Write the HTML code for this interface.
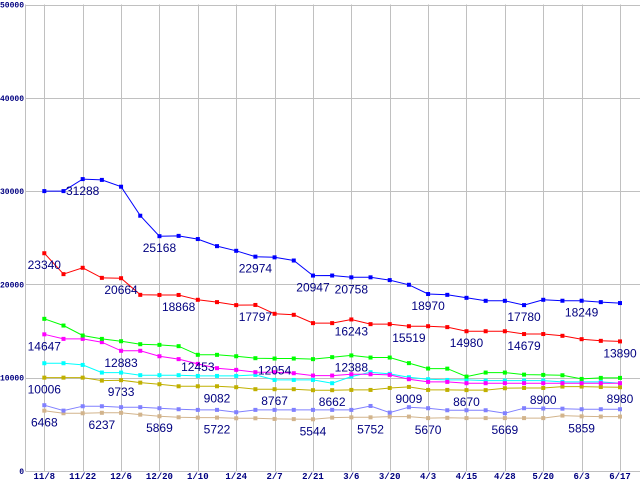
<!DOCTYPE html>
<html><head><meta charset="utf-8"><style>
html,body{margin:0;padding:0;background:#fff;}
svg{display:block;}
</style></head><body>
<svg id="chart" width="640" height="480" xmlns="http://www.w3.org/2000/svg"></svg>
<script>
const dates = ["11/8","11/22","12/6","12/20","1/10","1/24","2/7","2/21","3/6","3/20","4/3","4/15","4/28","5/20","6/3","6/17"];
const yTicks = [0,10000,20000,30000,40000,50000];
const blueVals = [30000,30000,31288,31200,30470,27360,25168,25200,24860,24100,23600,22974,22900,22560,20947,20950,20758,20758,20460,19960,18970,18880,18560,18240,18240,17780,18350,18249,18249,18100,18000];
const redVals = [23340,21100,21780,20700,20664,18880,18868,18868,18350,18100,17780,17797,16850,16740,15850,15850,16243,15740,15740,15519,15519,15420,14980,14980,14980,14679,14679,14490,14130,13950,13890];
const greenVals = [16310,15590,14520,14160,13910,13590,13520,13380,12453,12450,12300,12090,12054,12054,11990,12200,12388,12160,12160,11560,10980,10970,10120,10550,10550,10330,10300,10260,9870,9980,9980];
const magentaVals = [14647,14160,14160,13810,12883,12883,12300,11990,11480,11020,10840,10590,10590,10480,10230,10230,10370,10370,10300,9840,9550,9550,9410,9410,9410,9410,9410,9410,9410,9410,9410];
const cyanVals = [11550,11550,11370,10550,10550,10270,10270,10270,10190,10190,10190,10300,9760,9760,9760,9410,10120,10590,10410,10050,9840,9760,9760,9690,9690,9690,9690,9550,9550,9550,9410];
const oliveVals = [10006,10006,10006,9690,9733,9470,9300,9080,9082,9082,8980,8767,8767,8767,8662,8662,8690,8690,8900,9009,8690,8690,8670,8670,8870,8900,8900,9050,9050,9000,8980];
const slateVals = [7050,6470,6940,6940,6840,6840,6730,6620,6550,6550,6300,6550,6550,6550,6550,6550,6550,6970,6260,6840,6730,6510,6510,6510,6190,6730,6700,6680,6620,6620,6620];
const tanVals = [6468,6190,6190,6237,6237,6040,5869,5760,5722,5722,5650,5650,5580,5560,5544,5720,5752,5752,5830,5830,5670,5700,5670,5670,5669,5670,5670,5940,5859,5830,5830];
const blueLabels = [2,6,11,14,16,20,25,28];
const redLabels = [0,4,7,11,16,19,22,25,30];
const greenLabels = [8,12,16];
const magentaLabels = [0,4];
const oliveLabels = [0,4,9,12,15,19,22,26,30];
const tanLabels = [0,3,6,9,14,17,20,24,28];

const NS = "http://www.w3.org/2000/svg";
const svg = document.getElementById("chart");
const X0 = 44.3, STEP = 19.19, Y0 = 471, YS = 466.5/50000;
const xIdx = i => X0 + i*STEP;
const yVal = v => Y0 - v*YS;
function mk(tag, attrs){const e=document.createElementNS(NS,tag);for(const k in attrs)e.setAttribute(k,attrs[k]);svg.appendChild(e);return e;}

yTicks.forEach(t=>{
  const l=mk("line",{x1:25.5,x2:640,y1:Math.round(yVal(t))+0.5,y2:Math.round(yVal(t))+0.5,stroke:"#c0c0c0","stroke-width":1});
  
  
  const tx=mk("text",{x:24,y:yVal(t)+3,"text-anchor":"end","font-family":"Liberation Mono, monospace","font-size":8,"font-weight":"bold",fill:"#000080"});
  tx.textContent=t;
  
  
});
const ax=mk("line",{x1:25.5,x2:25.5,y1:4.5,y2:471,stroke:"#c0c0c0","stroke-width":1});


dates.forEach((d,k)=>{
  const x=Math.round(xIdx(k*2))+0.5;
  const l=mk("line",{x1:x,x2:x,y1:4.5,y2:471,stroke:"#c0c0c0","stroke-width":1});
  
  
  const tx=mk("text",{x:xIdx(k*2),y:479,"text-anchor":"middle","font-family":"Liberation Mono, monospace","font-size":9,"font-weight":"bold",fill:"#000080"});
  tx.textContent=d;
  
  
});

function series(vals, color, name, labels){
  const pts=vals.map((v,i)=>xIdx(i).toFixed(1)+","+yVal(v).toFixed(1)).join(" ");
  const pl=mk("polyline",{points:pts,fill:"none",stroke:color,"stroke-width":1});
  
  
  vals.forEach((v,i)=>{
    const r=mk("rect",{x:xIdx(i)-2,y:yVal(v)-2,width:4,height:4,fill:color});
    
    
  });
  labels.forEach(i=>{
    const tx=mk("text",{x:xIdx(i),y:yVal(vals[i])+16,"text-anchor":"middle","font-family":"Liberation Sans, sans-serif","font-size":12,fill:"#000080"});
    tx.textContent=vals[i];
    
    
  });
}
series(tanVals,"#d2b48c","tan-series",tanLabels);
series(slateVals,"#8080ff","slate-series",[]);
series(oliveVals,"#c0b000","olive-series",oliveLabels);
series(cyanVals,"#00ffff","cyan-series",[]);
series(magentaVals,"#ff00ff","magenta-series",magentaLabels);
series(greenVals,"#00ff00","green-series",greenLabels);
series(redVals,"#ff0000","red-series",redLabels);
series(blueVals,"#0000ff","blue-series",blueLabels);
</script>
</body></html>
